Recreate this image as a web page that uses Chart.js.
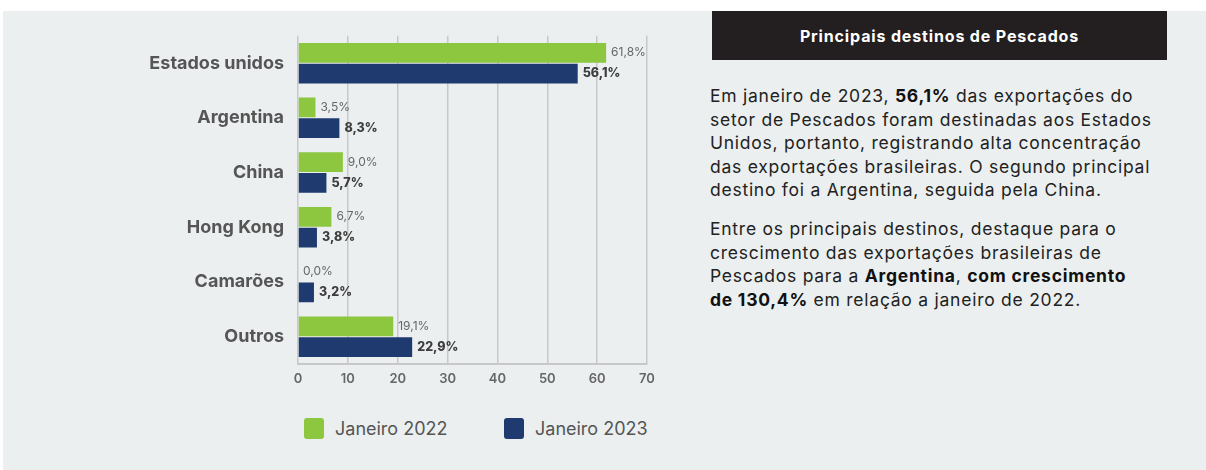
<!DOCTYPE html>
<html>
<head>
<meta charset="utf-8">
<script src="https://cdn.jsdelivr.net/npm/chart.js@4"></script>
<style>
  html, body { margin: 0; padding: 0; background: #fff; }
  body { width: 1206px; height: 470px; position: relative; overflow: hidden; font-family: Inter, 'Open Sans', sans-serif; }
  #panel { position: absolute; left: 3px; top: 11px; right: 0; bottom: 0; background: #ebeff0; }
  #chartBox { position: absolute; left: 0; top: 11px; width: 690px; height: 380px; }
  #legend { position: absolute; top: 418px; left: 0; width: 690px; height: 22px; }
  .item { position: absolute; top: 0; display: flex; align-items: center; color: #555; font-size: 18px; }
  .swatch { width: 20px; height: 21px; border-radius: 3px; margin-right: 11px; }
  #title { position: absolute; left: 712px; top: 11px; width: 455px; height: 49px; background: #231f20; color: #fff;
           font-weight: 700; font-size: 16px; letter-spacing: 0.85px; display: flex; align-items: center; justify-content: center; }
  .para { position: absolute; left: 710px; width: 490px; color: #222; font-size: 17.5px; letter-spacing: 0.75px; line-height: 23.6px; }
  .para b { color: #111; }
</style>
</head>
<body>
<div id="panel"></div>
<div id="chartBox"><canvas id="chart" width="690" height="380"></canvas></div>
<div id="legend"></div>
<div id="title">Principais destinos de Pescados</div>
<div class="para" style="top:84px">Em janeiro de 2023, <b>56,1%</b> das exportações do<br>setor de Pescados foram destinadas aos Estados<br>Unidos, portanto, registrando alta concentração<br>das exportações brasileiras. O segundo principal<br>destino foi a Argentina, seguida pela China.</div>
<div class="para" style="top:217px">Entre os principais destinos, destaque para o<br>crescimento das exportações brasileiras de<br>Pescados para a <b>Argentina</b>, <b>com crescimento<br>de 130,4%</b> em relação a janeiro de 2022.</div>
<script>
const destinos = ['Estados unidos', 'Argentina', 'China', 'Hong Kong', 'Camarões', 'Outros'];
const jan2022 = [61.8, 3.5, 9.0, 6.7, 0.0, 19.1];
const jan2023 = [56.1, 8.3, 5.7, 3.8, 3.2, 22.9];
const seriesNames = ['Janeiro 2022', 'Janeiro 2023'];
const seriesColors = ['#8dc63f', '#1f3a6f'];

const fmt = v => v.toFixed(1).replace('.', ',') + '%';

// value labels to the right of each bar
const valueLabels = {
  id: 'valueLabels',
  afterDatasetsDraw(chart) {
    const ctx = chart.ctx;
    chart.data.datasets.forEach((ds, i) => {
      const meta = chart.getDatasetMeta(i);
      ctx.save();
      ctx.font = i === 0 ? '400 12px Inter, sans-serif' : '800 12.5px Inter, sans-serif';
      ctx.fillStyle = i === 0 ? '#666' : '#3d3d3d';
      ctx.textBaseline = 'middle';
      meta.data.forEach((bar, j) => {
        ctx.fillText(fmt(ds.data[j]), bar.x + 5, bar.y);
      });
      ctx.restore();
    });
  }
};

const chart = new Chart(document.getElementById('chart'), {
  type: 'bar',
  data: {
    labels: destinos,
    datasets: [
      { label: seriesNames[0], data: jan2022, backgroundColor: seriesColors[0] },
      { label: seriesNames[1], data: jan2023, backgroundColor: seriesColors[1] }
    ]
  },
  options: {
    indexAxis: 'y',
    responsive: false,
    animation: false,
    categoryPercentage: 0.76,
    barPercentage: 0.95,
    layout: { padding: { top: 22, right: 43, bottom: 0, left: 0 } },
    plugins: { legend: { display: false }, tooltip: { enabled: false } },
    scales: {
      x: {
        min: 0, max: 70,
        ticks: { stepSize: 10, padding: 7, color: '#666', font: { size: 13, weight: '600', family: 'Inter' } },
        grid: { color: '#c8c8c8', lineWidth: 1.5, drawTicks: false },
        border: { color: '#c8c8c8', width: 2 },
        afterFit: s => { s.height = 27; }
      },
      y: {
        ticks: { padding: 14, color: '#555', font: { size: 18, weight: '700', family: 'Inter' } },
        grid: { display: false, drawTicks: false },
        border: { display: false },
        afterFit: s => { s.width = 298; }
      }
    }
  },
  plugins: [valueLabels]
});

// legend
const legend = document.getElementById('legend');
const legendX = [304, 504];
seriesNames.forEach((name, i) => {
  const el = document.createElement('div');
  el.className = 'item';
  el.style.left = legendX[i] + 'px';
  el.innerHTML = '<div class="swatch" style="background:' + seriesColors[i] + '"></div><span>' + name + '</span>';
  legend.appendChild(el);
});
</script>
</body>
</html>
